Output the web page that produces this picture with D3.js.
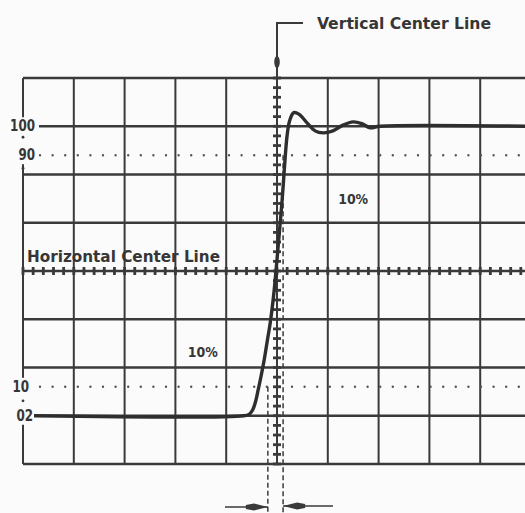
<!DOCTYPE html>
<html><head><meta charset="utf-8">
<script src="https://cdn.jsdelivr.net/npm/d3@7"></script>
<style>
html,body{margin:0;padding:0;background:#fbfbfb;}
svg{display:block;}
text{font-family:"DejaVu Sans Condensed","DejaVu Sans",sans-serif;font-weight:bold;fill:#363636;}
</style></head>
<body>
<svg id="c" width="525" height="513"></svg>
<script>
// ---- data ----
const xDivisions = d3.range(0, 11);            // time divisions 0..10
const yDivisionsPct = d3.range(0, 9).map(k => -100/6 + k*100/6); // 8 vertical divisions in %
const yTickValues = [100, 90, 10, 0];
const yTickLabels = ["100", "90", "10", "02"];
const dottedLevels = [90, 10];
// step response trace: time (divisions) and amplitude (%)
const traceTime = [0.28, 4.35, 4.45, 4.52, 4.58, 4.63, 4.69, 4.75, 4.81, 4.87, 4.93, 4.98, 5.03, 5.08, 5.12, 5.16, 5.20, 5.25, 5.33, 5.43, 5.60, 5.75, 5.91, 6.10, 6.30, 6.50, 6.67, 6.83, 7.03, 10.0];
const traceAmp  = [0,    0,    0.5,  2,    5,    9,    14,   19.5, 26,   32.5, 41,   50,   60,   70,   79,   89,   97,   102,  104.7, 104.2, 101,  98.4, 97.7, 98.4, 100.4, 101.5, 100.9, 99.5, 100,  100];
const riseMarkers = [{t: 4.82, from: 10}, {t: 5.12, from: 90}];
const annotations = [{text: "10%", t: 6.5, a: 75}, {text: "10%", t: 3.54, a: 22}];

// ---- scales ----
const x = d3.scaleLinear().domain([0, 10]).range([23, 531]);
const y = d3.scaleLinear().domain([-100/6, 100 + 100/6]).range([464, 78]);
const svg = d3.select("#c");
const ink = "#3a3a3a";

// grid
const g = svg.append("g");
g.selectAll("line.v").data(xDivisions).join("line")
  .attr("x1", d => x(d)).attr("x2", d => x(d))
  .attr("y1", y.range()[1]).attr("y2", y.range()[0])
  .attr("stroke", ink).attr("stroke-width", 2);
g.selectAll("line.h").data(yDivisionsPct).join("line")
  .attr("x1", x(0)).attr("x2", x(10))
  .attr("y1", d => y(d)).attr("y2", d => y(d))
  .attr("stroke", ink).attr("stroke-width", 2.3);

// dotted 90/10 lines
g.selectAll("line.dot").data(dottedLevels).join("line")
  .attr("x1", 40).attr("x2", x(10))
  .attr("y1", d => y(d)).attr("y2", d => y(d))
  .attr("stroke", "#555").attr("stroke-width", 2.4)
  .attr("stroke-linecap", "round").attr("stroke-dasharray", "0,12.6");

// minor ticks on center lines
const vTicks = d3.range(0, 8.001, 0.2).map(k => -100/6 + k*100/6);
g.selectAll("line.vt").data(vTicks).join("line")
  .attr("x1", x(5) - 4).attr("x2", x(5) + 4)
  .attr("y1", d => y(d)).attr("y2", d => y(d))
  .attr("stroke", ink).attr("stroke-width", 2.8);
const hTicks = d3.range(0, 10.001, 0.2);
g.selectAll("line.ht").data(hTicks).join("line")
  .attr("x1", d => x(d)).attr("x2", d => x(d))
  .attr("y1", y(50) - 4).attr("y2", y(50) + 4)
  .attr("stroke", ink).attr("stroke-width", 2.8);

// rise-time dashed markers
g.selectAll("line.rm").data(riseMarkers).join("line")
  .attr("x1", d => x(d.t)).attr("x2", d => x(d.t))
  .attr("y1", d => y(d.from)).attr("y2", 513)
  .attr("stroke", ink).attr("stroke-width", 1.5).attr("stroke-dasharray", "5,3");

// label backgrounds on the left border
g.append("rect").attr("x", 0).attr("y", y(100) - 9).attr("width", 39).attr("height", y(90) - y(100) + 18).attr("fill", "#fbfbfb");
g.append("rect").attr("x", 0).attr("y", y(10) - 9).attr("width", 36).attr("height", y(0) - y(10) + 18).attr("fill", "#fbfbfb");
// small dots along the interrupted border
[y(100) + 11, y(90) + 13, y(10) + 14].forEach(py => g.append("circle").attr("cx", x(0)).attr("cy", py).attr("r", 1.4).attr("fill", ink));
g.append("line").attr("x1", x(0)).attr("x2", x(0)).attr("y1", y(0) + 10).attr("y2", y(0) + 14).attr("stroke", ink).attr("stroke-width", 2);

// trace
const pts = traceTime.map((t, i) => [x(t), y(traceAmp[i])]);
pts[0][0] = 34;
svg.append("path").attr("d", d3.line().curve(d3.curveCatmullRom.alpha(0.5))(pts))
  .attr("fill", "none").attr("stroke", "#2e2e2e").attr("stroke-width", 3.4)
  .attr("stroke-linejoin", "round");

// y labels
const ylabX = [35, 35, 29, 33];
svg.selectAll("text.yl").data(yTickValues).join("text")
  .attr("x", (d, i) => ylabX[i]).attr("y", d => y(d) + 5)
  .attr("text-anchor", "end").attr("font-size", 15)
  .attr("textLength", (d, i) => yTickLabels[i].length * 8.3).attr("lengthAdjust", "spacingAndGlyphs")
  .text((d, i) => yTickLabels[i]);

// annotations
svg.selectAll("text.an").data(annotations).join("text")
  .attr("x", d => x(d.t)).attr("y", d => y(d.a) + 5)
  .attr("text-anchor", "middle").attr("font-size", 14)
  .attr("textLength", 30).attr("lengthAdjust", "spacingAndGlyphs")
  .text(d => d.text);

svg.append("text").attr("x", 27).attr("y", 262).attr("font-size", 16)
  .attr("textLength", 193).attr("lengthAdjust", "spacingAndGlyphs")
  .text("Horizontal Center Line");

// vertical center line callout
svg.append("path").attr("d", `M${x(5)},${y.range()[1]}V23H303`).attr("fill", "none").attr("stroke", ink).attr("stroke-width", 2);
svg.append("ellipse").attr("cx", x(5)).attr("cy", 62).attr("rx", 2.8).attr("ry", 6).attr("fill", ink);
svg.append("text").attr("x", 317).attr("y", 29).attr("font-size", 16)
  .attr("textLength", 174).attr("lengthAdjust", "spacingAndGlyphs")
  .text("Vertical Center Line");

// bottom arrows
const ax1 = x(riseMarkers[0].t), ax2 = x(riseMarkers[1].t);
svg.append("line").attr("x1", 225).attr("x2", ax1).attr("y1", 507).attr("y2", 507).attr("stroke", ink).attr("stroke-width", 1.6);
svg.append("path").attr("d", `M${ax1},507 L${ax1-14},503.5 L${ax1-22},505 L${ax1-22},509 L${ax1-14},510.5Z`).attr("fill", ink);
svg.append("line").attr("x1", ax2).attr("x2", 333).attr("y1", 506).attr("y2", 506).attr("stroke", ink).attr("stroke-width", 1.6);
svg.append("path").attr("d", `M${ax2},506 L${ax2+14},502.5 L${ax2+22},504 L${ax2+22},508 L${ax2+14},509.5Z`).attr("fill", ink);
</script>
</body></html>
